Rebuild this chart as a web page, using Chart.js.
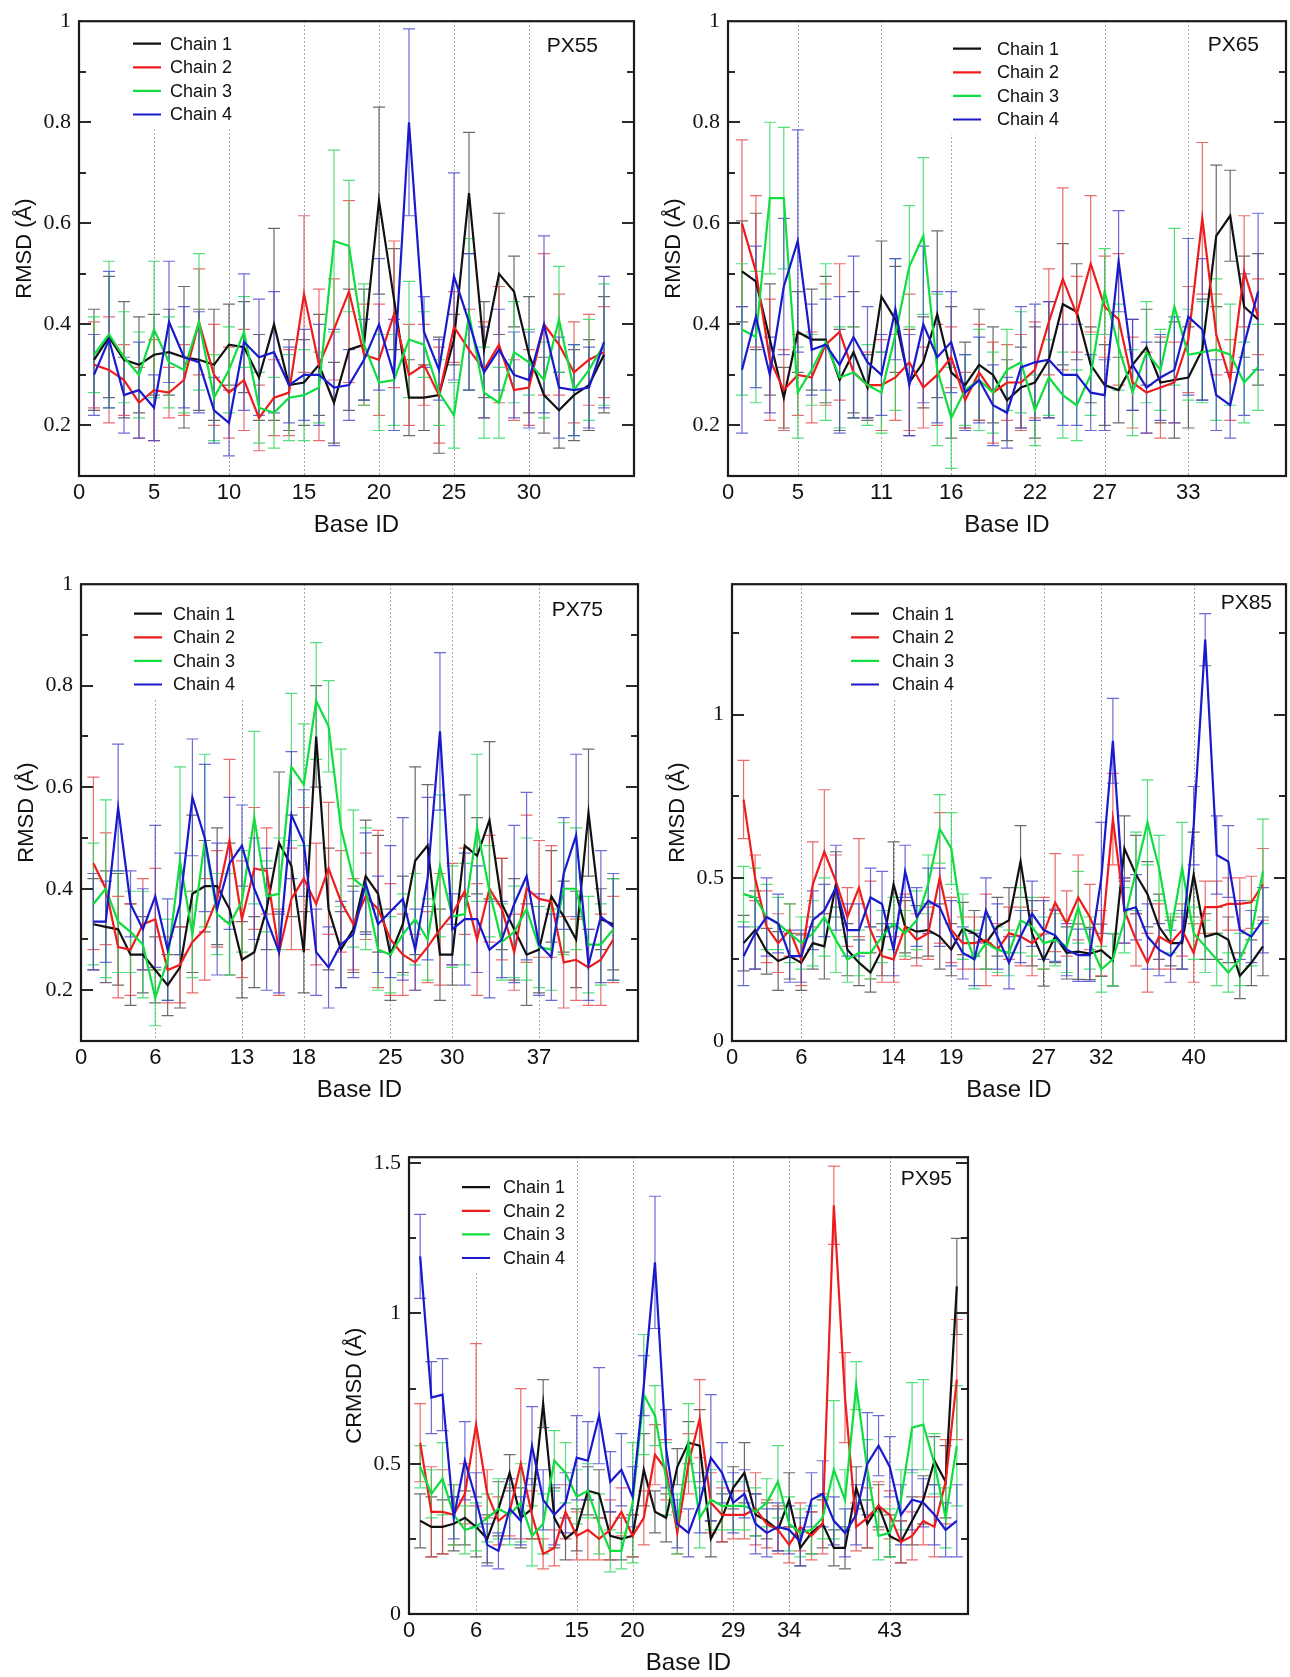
<!DOCTYPE html>
<html lang="en">
<head>
<meta charset="UTF-8">
<title>Per-base RMSD, PX55 - PX95</title>
<script src="https://cdn.jsdelivr.net/npm/chart.js@4.4.1/dist/chart.umd.min.js"></script>
<style>
  html, body { margin: 0; padding: 0; background: #fff; }
  body { width: 1290px; height: 1677px; position: relative; overflow: hidden; }
  canvas { position: absolute; }
</style>
</head>
<body>
<canvas id="p55"></canvas>
<canvas id="p65"></canvas>
<canvas id="p75"></canvas>
<canvas id="p85"></canvas>
<canvas id="p95"></canvas>

<script>
// ---- data ----
const chains = ['Chain 1', 'Chain 2', 'Chain 3', 'Chain 4'];

// y ticks
const yTicksLow = [0.1, 0.2, 0.3, 0.4, 0.5, 0.6, 0.7, 0.8, 0.9, 1];
const yMajorLow = [0.2, 0.4, 0.6, 0.8, 1];
const yTicks85 = [0, 0.25, 0.5, 0.75, 1, 1.25];
const yMajor85 = [0, 0.5, 1];
const yTicks95 = [0, 0.25, 0.5, 0.75, 1, 1.25, 1.5];
const yMajor95 = [0, 0.5, 1, 1.5];

// PX55
const p55Ticks = [0, 5, 10, 15, 20, 25, 30];
const p55C1 = [0.33,0.375,0.33,0.32,0.34,0.345,0.335,0.33,0.32,0.36,0.355,0.295,0.40,0.28,0.285,0.32,0.245,0.35,0.36,0.645,0.45,0.255,0.255,0.26,0.37,0.66,0.35,0.50,0.465,0.34,0.26,0.23,0.26,0.28,0.34];
const p55E1 = [0.1,0.12,0.115,0.095,0.08,0.085,0.14,0.1,0.11,0.08,0.09,0.085,0.19,0.09,0.085,0.1,0.08,0.12,0.11,0.185,0.1,0.075,0.065,0.115,0.05,0.12,0.095,0.12,0.07,0.115,0.075,0.075,0.09,0.09,0.115];
const p55C2 = [0.32,0.31,0.29,0.245,0.27,0.265,0.29,0.405,0.30,0.265,0.29,0.215,0.255,0.265,0.46,0.32,0.39,0.465,0.34,0.33,0.42,0.30,0.32,0.26,0.395,0.35,0.31,0.36,0.27,0.275,0.40,0.36,0.305,0.33,0.345];
const p55E2 = [0.085,0.105,0.07,0.07,0.1,0.05,0.07,0.105,0.1,0.09,0.1,0.065,0.075,0.085,0.155,0.15,0.1,0.18,0.1,0.11,0.145,0.1,0.08,0.095,0.07,0.08,0.095,0.115,0.06,0.075,0.14,0.1,0.1,0.09,0.09];
const p55C3 = [0.34,0.38,0.335,0.30,0.39,0.325,0.31,0.405,0.255,0.31,0.385,0.235,0.225,0.255,0.26,0.275,0.565,0.555,0.36,0.285,0.29,0.37,0.36,0.265,0.22,0.42,0.265,0.245,0.345,0.325,0.29,0.41,0.27,0.31,0.36];
const p55E3 = [0.075,0.145,0.09,0.085,0.135,0.09,0.085,0.135,0.085,0.085,0.07,0.07,0.07,0.085,0.09,0.07,0.18,0.13,0.12,0.095,0.09,0.115,0.065,0.065,0.065,0.15,0.09,0.07,0.1,0.065,0.075,0.105,0.09,0.1,0.12];
const p55C4 = [0.30,0.37,0.26,0.27,0.235,0.405,0.335,0.325,0.23,0.205,0.365,0.335,0.345,0.28,0.30,0.30,0.275,0.28,0.33,0.40,0.30,0.80,0.385,0.31,0.495,0.405,0.305,0.35,0.30,0.29,0.40,0.275,0.27,0.275,0.365];
const p55E4 = [0.08,0.135,0.075,0.095,0.065,0.12,0.1,0.1,0.065,0.065,0.135,0.115,0.12,0.075,0.09,0.1,0.115,0.07,0.08,0.13,0.11,0.185,0.07,0.06,0.205,0.135,0.09,0.08,0.085,0.095,0.175,0.1,0.09,0.08,0.13];

// PX65
const p65Ticks = [0, 5, 11, 16, 22, 27, 33];
const p65C1 = [0.505,0.485,0.37,0.255,0.385,0.37,0.37,0.29,0.345,0.275,0.455,0.41,0.285,0.325,0.42,0.305,0.28,0.32,0.30,0.25,0.275,0.285,0.33,0.44,0.425,0.32,0.28,0.27,0.32,0.355,0.285,0.29,0.295,0.35,0.575,0.615,0.435,0.41];
const p65E1 = [0.1,0.135,0.11,0.06,0.08,0.1,0.125,0.1,0.12,0.065,0.11,0.105,0.105,0.09,0.165,0.13,0.085,0.11,0.095,0.08,0.08,0.11,0.115,0.12,0.095,0.075,0.08,0.065,0.09,0.075,0.08,0.115,0.1,0.1,0.14,0.09,0.1,0.13];
const p65C2 = [0.60,0.505,0.33,0.27,0.30,0.295,0.36,0.385,0.305,0.28,0.28,0.295,0.325,0.275,0.30,0.335,0.25,0.305,0.265,0.285,0.285,0.31,0.405,0.49,0.42,0.52,0.435,0.41,0.285,0.265,0.275,0.285,0.37,0.61,0.38,0.29,0.505,0.415];
const p65E2 = [0.165,0.15,0.12,0.08,0.08,0.09,0.12,0.135,0.09,0.065,0.09,0.085,0.135,0.08,0.1,0.06,0.055,0.095,0.1,0.075,0.095,0.095,0.105,0.18,0.075,0.135,0.1,0.13,0.09,0.08,0.1,0.08,0.105,0.15,0.08,0.08,0.11,0.075];
const p65C3 = [0.39,0.375,0.65,0.65,0.265,0.31,0.365,0.295,0.305,0.28,0.265,0.38,0.515,0.575,0.31,0.215,0.27,0.29,0.265,0.31,0.325,0.23,0.295,0.26,0.24,0.30,0.465,0.355,0.265,0.345,0.31,0.435,0.34,0.345,0.35,0.34,0.285,0.315];
const p65E3 = [0.13,0.13,0.15,0.14,0.09,0.07,0.155,0.1,0.09,0.08,0.08,0.15,0.12,0.155,0.15,0.1,0.07,0.1,0.08,0.08,0.1,0.07,0.075,0.085,0.07,0.08,0.085,0.085,0.085,0.1,0.08,0.155,0.09,0.1,0.14,0.1,0.08,0.085];
const p65C4 = [0.31,0.415,0.30,0.475,0.565,0.35,0.36,0.32,0.375,0.325,0.30,0.43,0.28,0.40,0.335,0.365,0.265,0.29,0.24,0.225,0.315,0.325,0.33,0.30,0.30,0.265,0.26,0.525,0.32,0.275,0.295,0.31,0.415,0.39,0.26,0.24,0.36,0.465];
const p65E4 = [0.125,0.14,0.075,0.135,0.22,0.09,0.09,0.135,0.16,0.11,0.08,0.1,0.1,0.155,0.13,0.1,0.075,0.085,0.08,0.07,0.12,0.115,0.115,0.1,0.1,0.075,0.07,0.1,0.09,0.09,0.085,0.105,0.155,0.14,0.07,0.065,0.14,0.155];

// PX75
const p75Ticks = [0, 6, 13, 18, 25, 30, 37];
const p75C1 = [0.33,0.325,0.32,0.27,0.27,0.24,0.21,0.245,0.39,0.405,0.405,0.36,0.26,0.275,0.36,0.49,0.445,0.275,0.70,0.36,0.28,0.32,0.425,0.39,0.27,0.33,0.455,0.485,0.27,0.27,0.485,0.465,0.535,0.37,0.32,0.27,0.28,0.385,0.345,0.30,0.55,0.34,0.33];
const p75E1 = [0.09,0.11,0.11,0.1,0.075,0.065,0.06,0.08,0.155,0.09,0.115,0.13,0.075,0.07,0.08,0.14,0.1,0.08,0.1,0.12,0.075,0.085,0.11,0.115,0.09,0.095,0.185,0.12,0.09,0.06,0.1,0.075,0.155,0.09,0.1,0.1,0.085,0.09,0.07,0.095,0.125,0.06,0.09];
const p75C2 = [0.45,0.40,0.285,0.28,0.33,0.34,0.24,0.25,0.295,0.32,0.38,0.495,0.34,0.44,0.435,0.275,0.38,0.42,0.37,0.44,0.375,0.33,0.385,0.36,0.30,0.27,0.255,0.285,0.32,0.35,0.395,0.30,0.40,0.36,0.275,0.40,0.38,0.375,0.255,0.26,0.245,0.26,0.30];
const p75E2 = [0.17,0.11,0.1,0.09,0.09,0.1,0.065,0.075,0.1,0.1,0.095,0.16,0.115,0.12,0.085,0.085,0.1,0.14,0.12,0.13,0.1,0.09,0.085,0.155,0.11,0.08,0.055,0.07,0.11,0.1,0.085,0.11,0.105,0.1,0.075,0.145,0.115,0.11,0.09,0.08,0.075,0.09,0.085];
const p75C3 = [0.37,0.40,0.335,0.315,0.29,0.185,0.26,0.455,0.31,0.495,0.35,0.33,0.375,0.54,0.385,0.39,0.64,0.605,0.77,0.72,0.52,0.42,0.40,0.28,0.27,0.31,0.34,0.30,0.445,0.345,0.35,0.52,0.395,0.295,0.315,0.36,0.285,0.28,0.40,0.40,0.29,0.29,0.32];
const p75E3 = [0.12,0.175,0.1,0.08,0.105,0.055,0.08,0.185,0.085,0.17,0.08,0.1,0.1,0.17,0.07,0.11,0.145,0.12,0.115,0.09,0.155,0.135,0.12,0.08,0.075,0.08,0.09,0.08,0.14,0.1,0.1,0.145,0.09,0.075,0.09,0.14,0.08,0.08,0.13,0.12,0.095,0.08,0.1];
const p75C4 = [0.335,0.335,0.56,0.37,0.32,0.385,0.28,0.37,0.58,0.50,0.36,0.45,0.485,0.40,0.34,0.275,0.545,0.49,0.275,0.245,0.29,0.31,0.41,0.33,0.355,0.38,0.28,0.42,0.71,0.32,0.34,0.34,0.28,0.30,0.37,0.425,0.29,0.265,0.43,0.505,0.25,0.345,0.325];
const p75E4 = [0.095,0.08,0.125,0.065,0.08,0.14,0.1,0.1,0.115,0.145,0.13,0.13,0.08,0.1,0.14,0.08,0.125,0.105,0.085,0.08,0.085,0.085,0.1,0.095,0.13,0.16,0.08,0.16,0.155,0.07,0.13,0.105,0.095,0.075,0.155,0.165,0.1,0.085,0.11,0.16,0.07,0.13,0.105];

// PX85
const p85Ticks = [0, 6, 14, 19, 27, 32, 40];
const p85C1 = [0.30,0.34,0.275,0.245,0.26,0.24,0.30,0.29,0.48,0.28,0.24,0.21,0.28,0.48,0.35,0.335,0.34,0.32,0.28,0.345,0.33,0.30,0.35,0.37,0.55,0.33,0.248,0.32,0.27,0.274,0.268,0.278,0.248,0.59,0.51,0.45,0.35,0.30,0.30,0.51,0.32,0.33,0.31,0.20,0.24,0.29];
const p85E1 = [0.085,0.12,0.07,0.09,0.07,0.085,0.08,0.1,0.1,0.08,0.07,0.06,0.08,0.13,0.08,0.08,0.08,0.1,0.08,0.08,0.07,0.08,0.09,0.1,0.11,0.1,0.08,0.08,0.08,0.085,0.08,0.08,0.08,0.1,0.12,0.1,0.1,0.07,0.08,0.13,0.07,0.08,0.07,0.07,0.07,0.09];
const p85C2 = [0.74,0.50,0.35,0.30,0.34,0.25,0.48,0.58,0.49,0.38,0.47,0.34,0.26,0.25,0.35,0.31,0.33,0.50,0.34,0.30,0.30,0.31,0.28,0.33,0.32,0.30,0.33,0.424,0.36,0.44,0.38,0.30,0.68,0.40,0.31,0.24,0.32,0.30,0.34,0.27,0.41,0.41,0.42,0.42,0.425,0.48];
const p85E2 = [0.12,0.07,0.11,0.09,0.08,0.08,0.13,0.19,0.08,0.09,0.15,0.15,0.08,0.07,0.1,0.08,0.08,0.2,0.1,0.08,0.08,0.14,0.08,0.08,0.09,0.1,0.11,0.15,0.1,0.13,0.1,0.1,0.14,0.1,0.08,0.09,0.1,0.08,0.08,0.09,0.08,0.08,0.08,0.08,0.08,0.11];
const p85C3 = [0.45,0.44,0.38,0.36,0.33,0.30,0.33,0.38,0.31,0.25,0.27,0.27,0.32,0.36,0.33,0.37,0.48,0.65,0.59,0.35,0.25,0.30,0.28,0.27,0.37,0.35,0.30,0.31,0.29,0.41,0.30,0.22,0.25,0.37,0.52,0.67,0.53,0.33,0.53,0.33,0.29,0.25,0.21,0.25,0.33,0.52];
const p85E3 = [0.085,0.09,0.1,0.08,0.09,0.08,0.1,0.12,0.1,0.07,0.07,0.08,0.08,0.08,0.07,0.09,0.09,0.105,0.11,0.1,0.09,0.08,0.07,0.07,0.1,0.09,0.08,0.08,0.08,0.11,0.08,0.07,0.08,0.1,0.12,0.13,0.1,0.06,0.14,0.08,0.08,0.08,0.06,0.08,0.1,0.16];
const p85C4 = [0.26,0.33,0.38,0.36,0.26,0.26,0.37,0.40,0.47,0.34,0.34,0.44,0.42,0.28,0.52,0.38,0.43,0.41,0.33,0.27,0.25,0.40,0.32,0.24,0.32,0.39,0.34,0.324,0.28,0.263,0.263,0.50,0.92,0.40,0.41,0.32,0.28,0.26,0.31,0.66,1.23,0.57,0.55,0.34,0.32,0.37];
const p85E4 = [0.09,0.11,0.12,0.09,0.08,0.08,0.09,0.08,0.13,0.08,0.08,0.09,0.1,0.08,0.08,0.09,0.1,0.12,0.1,0.08,0.08,0.1,0.1,0.08,0.08,0.1,0.09,0.08,0.08,0.08,0.08,0.17,0.13,0.1,0.1,0.1,0.08,0.08,0.09,0.12,0.08,0.12,0.11,0.09,0.08,0.1];

// PX95
const p95Ticks = [0, 6, 15, 20, 29, 34, 43];
const p95C1 = [0.31,0.29,0.29,0.30,0.32,0.29,0.25,0.35,0.47,0.32,0.35,0.70,0.32,0.25,0.28,0.41,0.40,0.26,0.25,0.26,0.48,0.34,0.32,0.49,0.57,0.56,0.25,0.32,0.42,0.47,0.33,0.31,0.28,0.38,0.22,0.27,0.30,0.22,0.22,0.42,0.30,0.36,0.26,0.24,0.31,0.38,0.51,0.44,1.09];
const p95E1 = [0.09,0.1,0.09,0.09,0.09,0.1,0.08,0.09,0.06,0.1,0.1,0.08,0.1,0.07,0.07,0.08,0.08,0.08,0.07,0.07,0.12,0.07,0.08,0.06,0.07,0.12,0.06,0.08,0.07,0.1,0.07,0.06,0.07,0.09,0.06,0.07,0.08,0.06,0.07,0.07,0.08,0.07,0.07,0.07,0.08,0.08,0.08,0.12,0.16];
const p95C2 = [0.57,0.34,0.34,0.33,0.40,0.63,0.40,0.31,0.34,0.50,0.33,0.20,0.22,0.34,0.26,0.28,0.25,0.28,0.34,0.26,0.32,0.53,0.48,0.27,0.50,0.65,0.37,0.33,0.33,0.33,0.35,0.30,0.28,0.23,0.29,0.26,0.30,1.36,0.72,0.29,0.32,0.36,0.33,0.24,0.26,0.31,0.29,0.44,0.78];
const p95E2 = [0.13,0.15,0.14,0.1,0.1,0.27,0.08,0.08,0.08,0.25,0.08,0.05,0.06,0.09,0.08,0.1,0.07,0.1,0.08,0.07,0.09,0.1,0.1,0.07,0.1,0.13,0.1,0.09,0.08,0.08,0.12,0.08,0.08,0.06,0.08,0.08,0.1,0.13,0.15,0.08,0.1,0.08,0.08,0.07,0.08,0.08,0.1,0.14,0.2];
const p95C3 = [0.49,0.40,0.45,0.33,0.28,0.29,0.32,0.35,0.33,0.37,0.26,0.30,0.51,0.47,0.39,0.41,0.30,0.21,0.21,0.37,0.73,0.66,0.45,0.30,0.57,0.32,0.38,0.36,0.36,0.36,0.34,0.37,0.44,0.30,0.27,0.28,0.32,0.48,0.38,0.76,0.48,0.26,0.27,0.38,0.62,0.63,0.50,0.32,0.56];
const p95E3 = [0.07,0.08,0.12,0.1,0.08,0.08,0.08,0.1,0.1,0.13,0.1,0.1,0.1,0.1,0.09,0.09,0.1,0.07,0.06,0.2,0.2,0.1,0.12,0.1,0.13,0.1,0.1,0.08,0.08,0.08,0.08,0.08,0.12,0.09,0.08,0.08,0.07,0.23,0.1,0.08,0.1,0.08,0.08,0.1,0.15,0.15,0.1,0.1,0.2];
const p95C4 = [1.19,0.72,0.73,0.32,0.51,0.38,0.23,0.21,0.35,0.31,0.56,0.38,0.33,0.37,0.52,0.51,0.66,0.44,0.48,0.39,0.76,1.17,0.55,0.30,0.27,0.37,0.52,0.47,0.37,0.40,0.30,0.27,0.29,0.28,0.24,0.38,0.40,0.31,0.27,0.33,0.50,0.56,0.49,0.33,0.38,0.37,0.33,0.28,0.31];
const p95E4 = [0.14,0.12,0.12,0.07,0.13,0.09,0.07,0.06,0.1,0.08,0.13,0.1,0.1,0.1,0.14,0.13,0.16,0.1,0.12,0.1,0.1,0.22,0.13,0.08,0.08,0.1,0.21,0.1,0.1,0.08,0.1,0.08,0.08,0.08,0.08,0.09,0.11,0.08,0.08,0.1,0.17,0.1,0.1,0.1,0.1,0.08,0.1,0.09,0.12];

// ---- styling ----
const lineColors = ['#111111', '#ee1c1c', '#10dd40', '#1a1acc'];
const errColors = ['rgba(70,70,70,0.8)', 'rgba(230,70,70,0.8)', 'rgba(40,215,90,0.8)', 'rgba(70,70,205,0.8)'];
const SANS = '"Liberation Sans", Arial, sans-serif';
const SERIF = '"Liberation Serif", "Times New Roman", serif';
const Y_W = 78, X_H = 70, PAD_TOP = 16, PAD_R = 3;

// frame = [left, top, right, bottom] of the plot box on the page
const panels = [
  { id: 'p55', name: 'PX55', frame: [79, 16, 634, 476], xMax: 37, xTicks: p55Ticks,
    yMin: 0.1, yMax: 1, yTicks: yTicksLow, yMajor: yMajorLow, yTitle: 'RMSD (Å)',
    series: [p55C1, p55C2, p55C3, p55C4], errs: [p55E1, p55E2, p55E3, p55E4],
    legend: { line: 54, text: 91, row: 22.5 }, tag: { right: 36, y: 25 } },
  { id: 'p65', name: 'PX65', frame: [728, 16, 1286, 476], xMax: 40, xTicks: p65Ticks,
    yMin: 0.1, yMax: 1, yTicks: yTicksLow, yMajor: yMajorLow, yTitle: 'RMSD (Å)',
    series: [p65C1, p65C2, p65C3, p65C4], errs: [p65E1, p65E2, p65E3, p65E4],
    legend: { line: 225, text: 269, row: 27.5 }, tag: { right: 27, y: 24 } },
  { id: 'p75', name: 'PX75', frame: [81, 579, 638, 1041], xMax: 45, xTicks: p75Ticks,
    yMin: 0.1, yMax: 1, yTicks: yTicksLow, yMajor: yMajorLow, yTitle: 'RMSD (Å)',
    series: [p75C1, p75C2, p75C3, p75C4], errs: [p75E1, p75E2, p75E3, p75E4],
    legend: { line: 53, text: 92, row: 29.5 }, tag: { right: 35, y: 26 } },
  { id: 'p85', name: 'PX85', frame: [732, 579, 1286, 1041], xMax: 48, xTicks: p85Ticks,
    yMin: 0, yMax: 1.4, yTicks: yTicks85, yMajor: yMajor85, yTitle: 'RMSD (Å)',
    series: [p85C1, p85C2, p85C3, p85C4], errs: [p85E1, p85E2, p85E3, p85E4],
    legend: { line: 119, text: 160, row: 29.5 }, tag: { right: 14, y: 19 } },
  { id: 'p95', name: 'PX95', frame: [409, 1152, 968, 1614], xMax: 50, xTicks: p95Ticks,
    yMin: 0, yMax: 1.52, yTicks: yTicks95, yMajor: yMajor95, yTitle: 'CRMSD (Å)',
    series: [p95C1, p95C2, p95C3, p95C4], errs: [p95E1, p95E2, p95E3, p95E4],
    legend: { line: 53, text: 94, row: 30 }, tag: { right: 16, y: 22 } }
];

// dotted guides, legend box, error bars (under the lines); frame + inner ticks on top
function panelPlugin(p) {
  return {
    id: 'panel_' + p.id,
    beforeDatasetsDraw(chart) {
      const { ctx, chartArea: a, scales: { x, y } } = chart;
      ctx.save();
      ctx.beginPath();
      ctx.rect(a.left, a.top, a.width, a.height);
      ctx.clip();

      ctx.strokeStyle = '#8c8c8c';
      ctx.lineWidth = 1;
      ctx.setLineDash([1.5, 2.5]);
      p.xTicks.forEach(v => {
        if (v <= x.min) return;
        const px = Math.round(x.getPixelForValue(v)) + 0.5;
        ctx.beginPath();
        ctx.moveTo(px, a.top);
        ctx.lineTo(px, a.bottom);
        ctx.stroke();
      });
      ctx.setLineDash([]);

      // legend
      const L = p.legend, rowH = 23.6;
      ctx.fillStyle = '#fff';
      ctx.fillRect(a.left + L.line - 8, a.top + 1, L.text - L.line + 80, L.row + 3 * rowH + 14);
      ctx.font = '18px ' + SANS;
      ctx.textBaseline = 'middle';
      ctx.textAlign = 'left';
      chains.forEach((name, i) => {
        const yy = a.top + L.row + i * rowH;
        ctx.strokeStyle = lineColors[i];
        ctx.lineWidth = 2.2;
        ctx.beginPath();
        ctx.moveTo(a.left + L.line, yy);
        ctx.lineTo(a.left + L.line + 28, yy);
        ctx.stroke();
        ctx.fillStyle = '#111';
        ctx.fillText(name, a.left + L.text, yy + 1);
      });

      // error bars
      ctx.lineWidth = 1.2;
      p.series.forEach((vals, i) => {
        ctx.strokeStyle = errColors[i];
        vals.forEach((v, j) => {
          const e = p.errs[i][j];
          const px = x.getPixelForValue(j + 1);
          const t = y.getPixelForValue(v + e), b = y.getPixelForValue(v - e);
          ctx.beginPath();
          ctx.moveTo(px, t); ctx.lineTo(px, b);
          ctx.moveTo(px - 6, t); ctx.lineTo(px + 6, t);
          ctx.moveTo(px - 6, b); ctx.lineTo(px + 6, b);
          ctx.stroke();
        });
      });
      ctx.restore();
    },
    afterDraw(chart) {
      const { ctx, chartArea: a, scales: { y } } = chart;
      ctx.save();
      ctx.strokeStyle = '#2a2a2a';
      ctx.lineWidth = 2;
      p.yTicks.forEach(v => {
        if (v <= p.yMin || v >= p.yMax) return;
        const py = Math.round(y.getPixelForValue(v));
        const len = p.yMajor.includes(v) ? 12 : 7;
        ctx.beginPath();
        ctx.moveTo(a.left, py); ctx.lineTo(a.left + len, py);
        ctx.moveTo(a.right, py); ctx.lineTo(a.right - len, py);
        ctx.stroke();
      });
      ctx.lineWidth = 2.2;
      ctx.strokeStyle = '#1a1a1a';
      ctx.strokeRect(a.left, a.top, a.width, a.height);

      ctx.fillStyle = '#111';
      ctx.font = '21px ' + SANS;
      ctx.textAlign = 'right';
      ctx.textBaseline = 'middle';
      ctx.fillText(p.name, a.right - p.tag.right, a.top + p.tag.y);
      ctx.restore();
    }
  };
}

panels.forEach(p => {
  const cv = document.getElementById(p.id);
  const [fl, ft, fr, fb] = p.frame;
  cv.width = (fr - fl) + Y_W + PAD_R;
  cv.height = (fb - ft) + PAD_TOP + X_H;
  cv.style.left = (fl - Y_W) + 'px';
  cv.style.top = (ft - PAD_TOP) + 'px';

  const datasets = p.series.map((vals, i) => ({
    label: chains[i],
    data: vals.map((v, j) => ({ x: j + 1, y: v })),
    borderColor: lineColors[i],
    borderWidth: 2.2,
    pointRadius: 0,
    tension: 0,
    fill: false,
    order: 4 - i
  }));

  new Chart(cv, {
    type: 'line',
    data: { datasets },
    options: {
      responsive: false,
      animation: false,
      layout: { padding: { top: PAD_TOP, right: PAD_R, left: 0, bottom: 0 } },
      plugins: { legend: { display: false }, tooltip: { enabled: false } },
      scales: {
        x: {
          type: 'linear',
          min: 0,
          max: p.xMax,
          afterBuildTicks: s => { s.ticks = p.xTicks.map(v => ({ value: v })); },
          afterFit: s => { s.height = X_H; },
          grid: { display: false, drawTicks: false },
          border: { display: false },
          ticks: {
            autoSkip: false, maxRotation: 0, padding: 4,
            color: '#111', font: { family: SANS, size: 22 }
          },
          title: {
            display: true, text: 'Base ID', color: '#111',
            font: { family: SANS, size: 24 }, padding: { top: 0, bottom: 6 }
          }
        },
        y: {
          min: p.yMin,
          max: p.yMax,
          afterBuildTicks: s => { s.ticks = p.yTicks.map(v => ({ value: v })); },
          afterFit: s => { s.width = Y_W; },
          grid: { display: false, drawTicks: false },
          border: { display: false },
          ticks: {
            autoSkip: false, padding: 8, color: '#111',
            font: { family: SERIF, size: 22 },
            callback: v => (p.yMajor.includes(v) ? String(v) : '')
          },
          title: {
            display: true, text: p.yTitle, color: '#111',
            font: { family: SANS, size: 22 }, padding: { top: 11, bottom: 0 }
          }
        }
      }
    },
    plugins: [panelPlugin(p)]
  });
});
</script>
</body>
</html>
